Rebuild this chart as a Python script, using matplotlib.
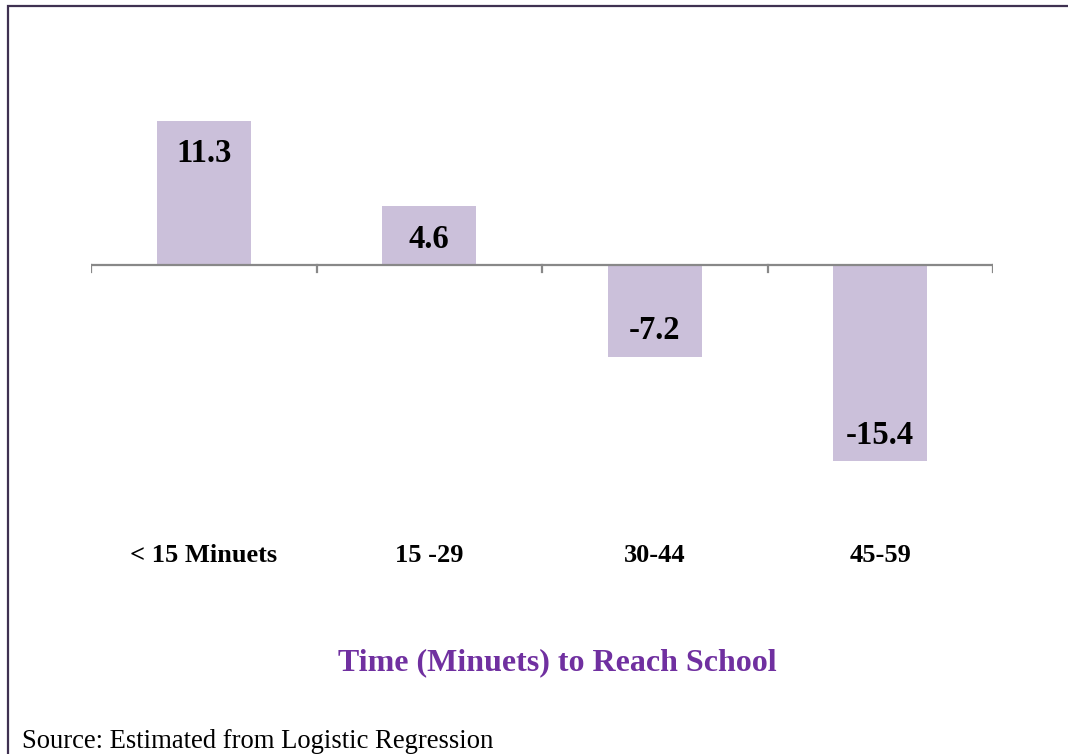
import numpy as np
import matplotlib.pyplot as plt
from matplotlib.patches import Rectangle

# Данные графика
categories = ['< 15 Minuets', '15 -29', '30-44', '45-59']
values = [11.3, 4.6, -7.2, -15.4]
value_labels = ['11.3', '4.6', '-7.2', '-15.4']

plt.rcParams['font.family'] = ['Liberation Serif', 'DejaVu Serif']

W, H = 1068, 754
fig = plt.figure(figsize=(W / 100, H / 100), dpi=100)

# Оси: x от 91 до 993 пикселей, ноль на 265 пикселе
y_top, y_bot = 16, -20
px_per_unit = 12.75
top_px = 265 - y_top * px_per_unit
bot_px = 265 - y_bot * px_per_unit
ax = fig.add_axes([91 / W, 1 - bot_px / H, (993 - 91) / W, (bot_px - top_px) / H])

x = np.arange(len(categories))
ax.bar(x, values, width=0.417, color='#CBC0DA', zorder=2)
ax.set_xlim(-0.5, len(categories) - 0.5)
ax.set_ylim(y_bot, y_top)

# Горизонтальная ось на нуле с засечками вниз
ax.axhline(0, color='#888888', linewidth=1.6, zorder=3)
for t in np.arange(-0.5, len(categories), 1.0):
    ax.plot([t, t], [0, -0.55], color='#888888', linewidth=1.6, zorder=3)

for s in ax.spines.values():
    s.set_visible(False)
ax.set_xticks([])
ax.set_yticks([])

# Подписи значений внутри столбцов
for xi, v, lab in zip(x, values, value_labels):
    ypos = v - 3.25 if v > 0 else v + 1.4
    ax.text(xi, ypos, lab, ha='center', va='baseline', fontsize=23.5,
            fontweight='bold', color='black', zorder=4)

# Подписи категорий
for xi, cat in zip(x, categories):
    ax.text(xi, -23.3, cat, ha='center', va='baseline', fontsize=19,
            fontweight='bold', color='black', clip_on=False)

fig.text(557 / W, 1 - 670 / H, 'Time (Minuets) to Reach School', ha='center',
         va='baseline', fontsize=23, fontweight='bold', color='#7030A0')

fig.text(22 / W, 1 - 748 / H, 'Source: Estimated from Logistic Regression',
         ha='left', va='baseline', fontsize=19.2, color='black')

# Рамка вокруг рисунка (выходит за края)
fig.patches.append(Rectangle((7.5 / W, -0.1), 1.2, 1 - 6.5 / H + 0.1,
                             transform=fig.transFigure, fill=False,
                             edgecolor='#3F3151', linewidth=1.6))

fig.savefig('out.png', dpi=100)
